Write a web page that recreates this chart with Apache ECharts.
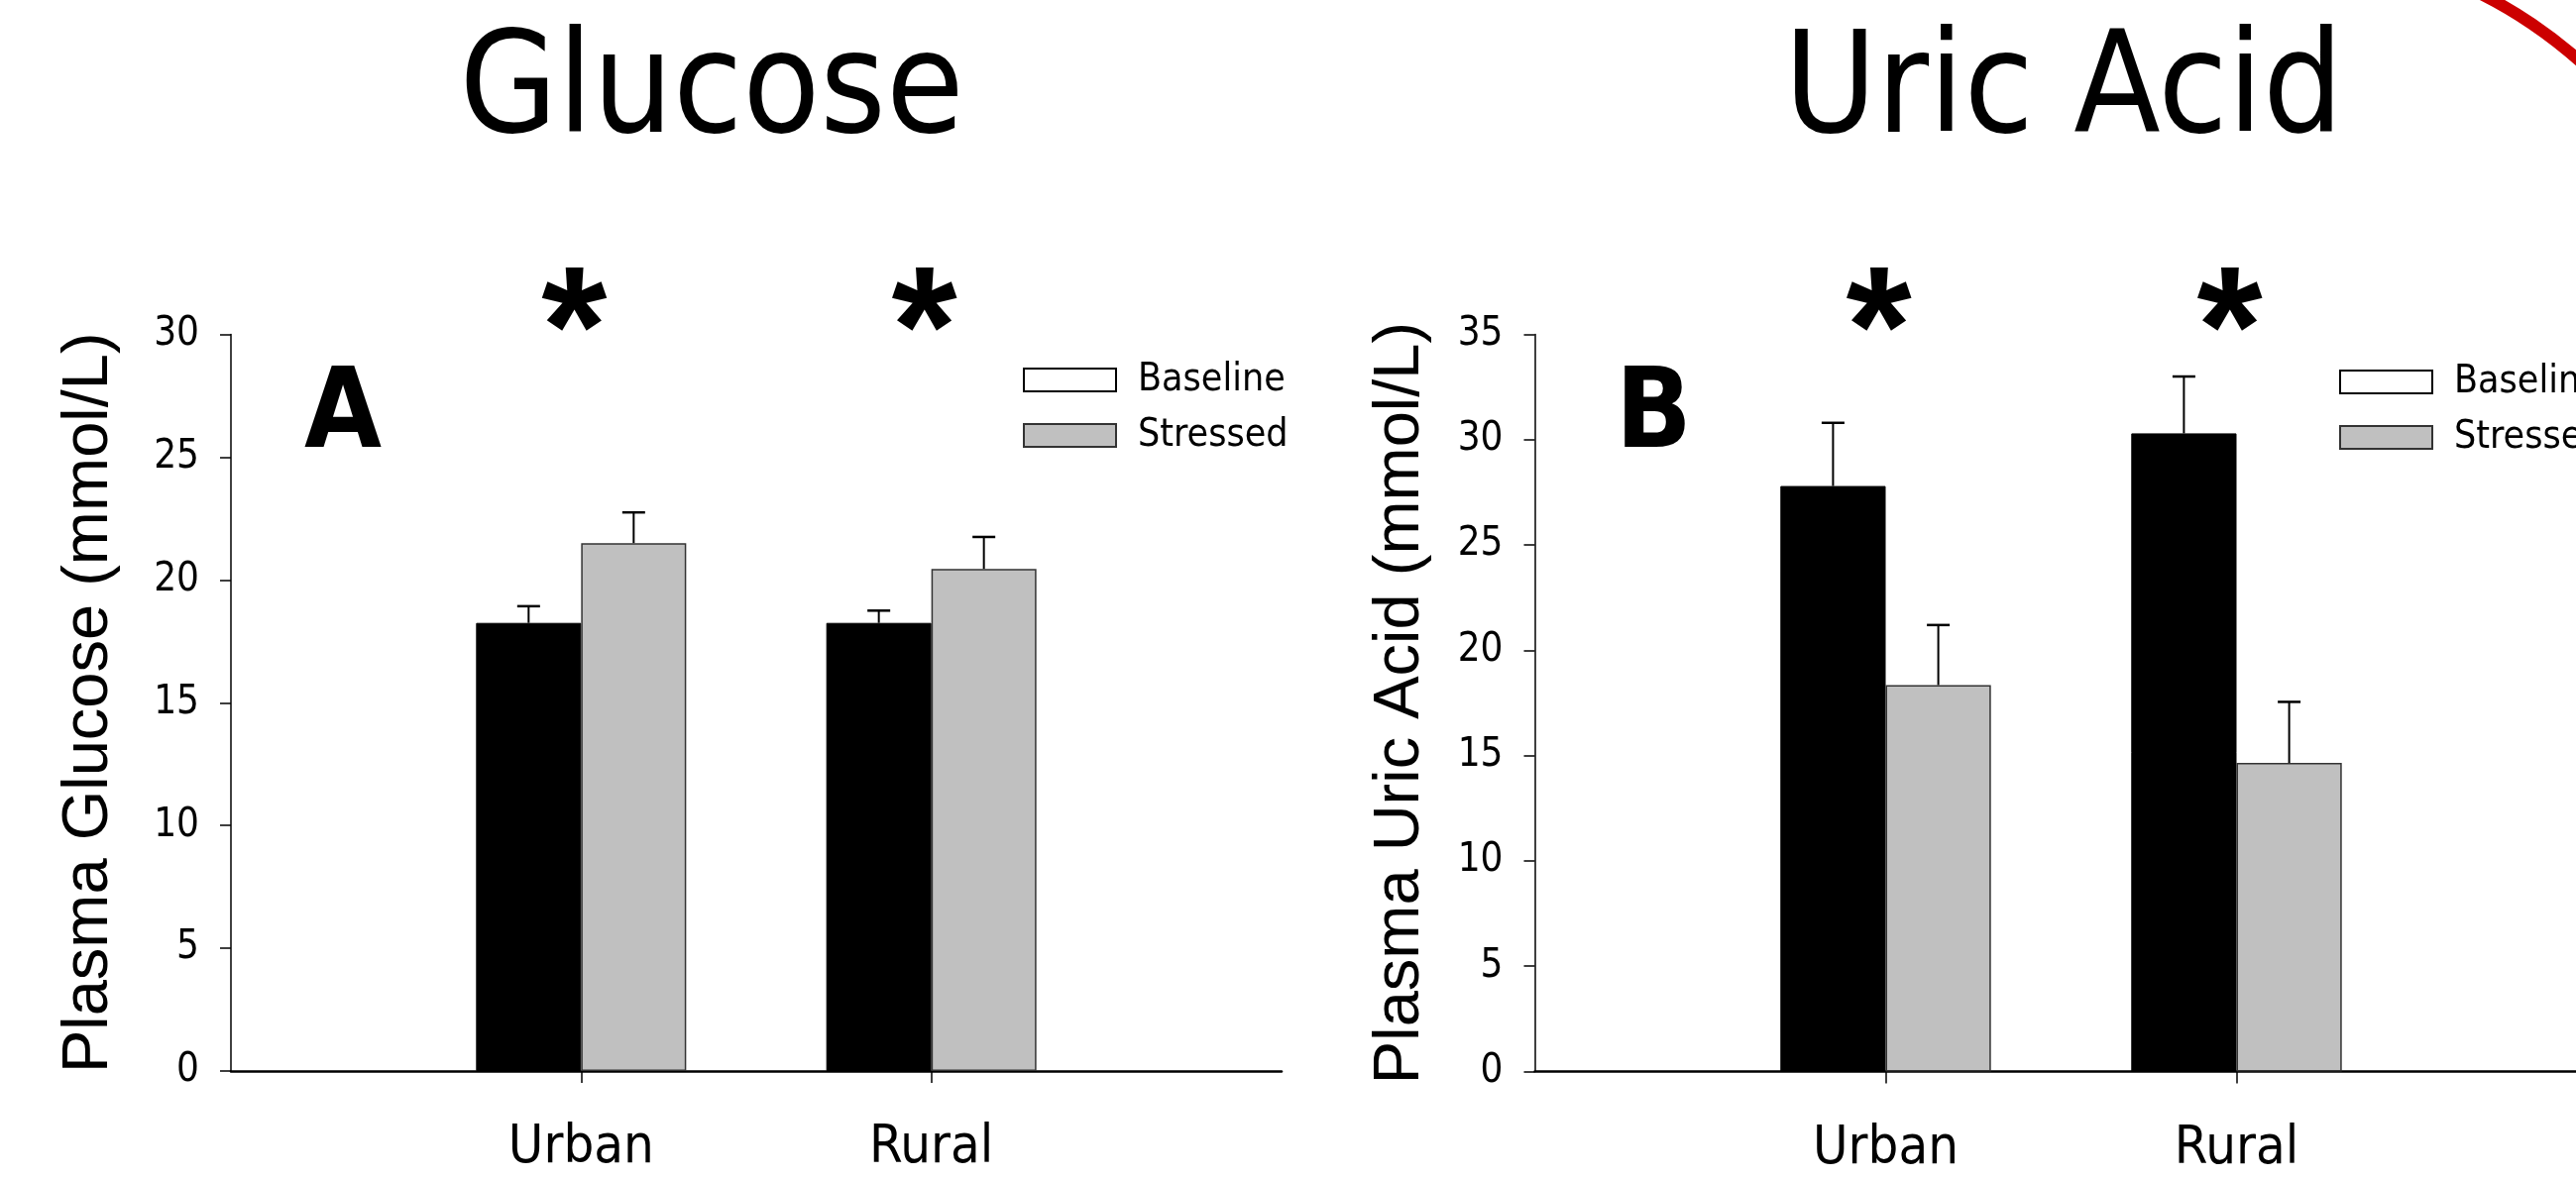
<!DOCTYPE html>
<html><head><meta charset="utf-8">
<script src="https://cdn.jsdelivr.net/npm/echarts@6/dist/echarts.min.js"></script>
<style>html,body{margin:0;padding:0;background:#fff}#c{width:2599px;height:1190px}</style>
</head><body><div id="c"></div>
<script>
// ---- data ----
const categories = ['Urban', 'Rural'];
const seriesNames = ['Baseline', 'Stressed'];
const glucoseBaseline = [18.25, 18.25];
const glucoseStressed = [21.5, 20.45];
const glucoseBaselineErr = [0.68, 0.5];
const glucoseStressedErr = [1.25, 1.3];
const uricBaseline = [27.8, 30.3];
const uricStressed = [18.35, 14.65];
const uricBaselineErr = [3.0, 2.7];
const uricStressedErr = [2.85, 2.9];
const glucoseSig = ['*', '*'];
const uricSig = ['*', '*'];
const glucoseAxis = { min: 0, max: 30, interval: 5 };
const uricAxis = { min: 0, max: 35, interval: 5 };
const panelTitles = ['Glucose', 'Uric Acid'];
const panelLetters = ['A', 'B'];
const yNames = ['Plasma Glucose (mmol/L)', 'Plasma Uric Acid (mmol/L)'];

// ---- helpers ----
const FONT = '"DejaVu Sans Condensed", "DejaVu Sans", sans-serif';
const YFONT = '"Liberation Sans", Arial, sans-serif';
const axisData = [''].concat(categories, [' ']);
const pad = v => ['-'].concat(v, ['-']);
const errData = (vals, errs) => vals.map((v, i) => [i + 1, v, errs[i]]);

function errRender(sign) {
  return function (params, api) {
    const idx = api.value(0), v = api.value(1), e = api.value(2);
    const band = api.size([1, 0])[0];
    const base = api.coord([idx, v]);
    const top = api.coord([idx, v + e]);
    const x = base[0] + sign * band * 0.15;
    return { type: 'group', children: [
      { type: 'line', shape: { x1: x, y1: base[1], x2: x, y2: top[1] }, style: { stroke: '#000', lineWidth: 2 } },
      { type: 'line', shape: { x1: x - 11.5, y1: top[1], x2: x + 11.5, y2: top[1] }, style: { stroke: '#000', lineWidth: 2.5 } }
    ]};
  };
}
function sigRender(yMax, marks) {
  return function (params, api) {
    const p = api.coord([api.value(0), yMax]);
    return { type: 'text', x: p[0] - 7, y: p[1] - 81,
      style: { text: marks[params.dataIndex], fontSize: 170, fontWeight: 'bold', fontFamily: '"Liberation Sans", Arial, sans-serif', fill: '#000', align: 'center', verticalAlign: 'top' } };
  };
}

const grids = [
  { left: 233, top: 337.5, width: 1060, height: 743.5, containLabel: false, outerBoundsMode: 'none' },
  { left: 1548.5, top: 337.5, width: 1062, height: 744, containLabel: false, outerBoundsMode: 'none' }
];
function xAxis(gi) {
  return { type: 'category', gridIndex: gi, data: axisData, boundaryGap: false,
    axisLine: { show: true, lineStyle: { color: '#000', width: 2.5 } },
    axisTick: { show: true, length: 12, interval: (i) => i === 1 || i === 2, lineStyle: { color: '#000', width: 1.5 } },
    axisLabel: { interval: 0, fontSize: 54, margin: 51, color: '#000', fontFamily: FONT },
    splitLine: { show: false } };
}
function yAxis(gi, ax, name, gap) {
  return { type: 'value', gridIndex: gi, min: ax.min, max: ax.max, interval: ax.interval,
    name: name, nameLocation: 'middle', nameGap: gap, nameRotate: 90,
    nameTextStyle: { fontSize: 65, fontFamily: YFONT, color: '#000' },
    axisLine: { show: true, lineStyle: { color: '#000', width: 1.5 } },
    axisTick: { show: true, inside: false, length: 11, lineStyle: { color: '#000', width: 1.5 } },
    axisLabel: { fontSize: 40, margin: 32, color: '#000', fontFamily: FONT },
    splitLine: { show: false } };
}
function legend(left, top) {
  return { left: left, top: top, orient: 'vertical', padding: 0, itemWidth: 93, itemHeight: 23, itemGap: 17,
    icon: 'rect', selectedMode: false,
    textStyle: { fontSize: 39, lineHeight: 39, fontFamily: FONT, color: '#000', padding: [0, 0, 0, 17] },
    data: [
      { name: seriesNames[0], icon: 'rect', itemStyle: { color: '#fff', borderColor: '#000', borderWidth: 2 } },
      { name: seriesNames[1], icon: 'rect', itemStyle: { color: '#c0c0c0', borderColor: '#333', borderWidth: 2 } }
    ] };
}
function bars(gi, base, stressed) {
  return [
    { name: seriesNames[0], type: 'bar', xAxisIndex: gi, yAxisIndex: gi, data: pad(base), barWidth: '30%', barGap: '0%',
      itemStyle: { color: '#000', borderColor: '#000', borderWidth: 1 } },
    { name: seriesNames[1], type: 'bar', xAxisIndex: gi, yAxisIndex: gi, data: pad(stressed), barWidth: '30%', barGap: '0%',
      itemStyle: { color: '#c0c0c0', borderColor: '#333', borderWidth: 1.5 } }
  ];
}
function errs(gi, base, bErr, stressed, sErr, ax, marks) {
  return [
    { type: 'custom', xAxisIndex: gi, yAxisIndex: gi, z: 5, data: errData(base, bErr), renderItem: errRender(-1), silent: true },
    { type: 'custom', xAxisIndex: gi, yAxisIndex: gi, z: 5, data: errData(stressed, sErr), renderItem: errRender(1), silent: true },
    { type: 'custom', xAxisIndex: gi, yAxisIndex: gi, z: 5, data: categories.map((c, i) => [i + 1]), renderItem: sigRender(ax.max, marks), silent: true }
  ];
}

const chart = echarts.init(document.getElementById('c'), null, { renderer: 'canvas' });
chart.setOption({
  animation: false,
  backgroundColor: '#fff',
  grid: grids,
  xAxis: [xAxis(0), xAxis(1)],
  yAxis: [yAxis(0, glucoseAxis, yNames[0], 110), yAxis(1, uricAxis, yNames[1], 103)],
  legend: [legend(1032, 364), legend(2360, 366)],
  series: [].concat(
    bars(0, glucoseBaseline, glucoseStressed),
    bars(1, uricBaseline, uricStressed),
    errs(0, glucoseBaseline, glucoseBaselineErr, glucoseStressed, glucoseStressedErr, glucoseAxis, glucoseSig),
    errs(1, uricBaseline, uricBaselineErr, uricStressed, uricStressedErr, uricAxis, uricSig)
  ),
  graphic: [
    { type: 'text', x: 718, y: 25, style: { text: panelTitles[0], fontSize: 142, fontFamily: FONT, fill: '#000', align: 'center', verticalAlign: 'top' } },
    { type: 'text', x: 2082, y: 25, style: { text: panelTitles[1], fontSize: 142, fontFamily: FONT, fill: '#000', align: 'center', verticalAlign: 'top' } },
    { type: 'text', x: 307, y: 366, style: { text: panelLetters[0], fontSize: 112, fontWeight: 'bold', fontFamily: FONT, fill: '#000', verticalAlign: 'top' } },
    { type: 'text', x: 1630, y: 366, style: { text: panelLetters[1], fontSize: 112, fontWeight: 'bold', fontFamily: FONT, fill: '#000', verticalAlign: 'top' } },
    { type: 'arc', shape: { cx: 2300, cy: 400, r: 454, startAngle: -1.35, endAngle: -0.6, clockwise: true },
      style: { stroke: '#cc0000', lineWidth: 12, fill: null } }
  ]
});
</script></body></html>
